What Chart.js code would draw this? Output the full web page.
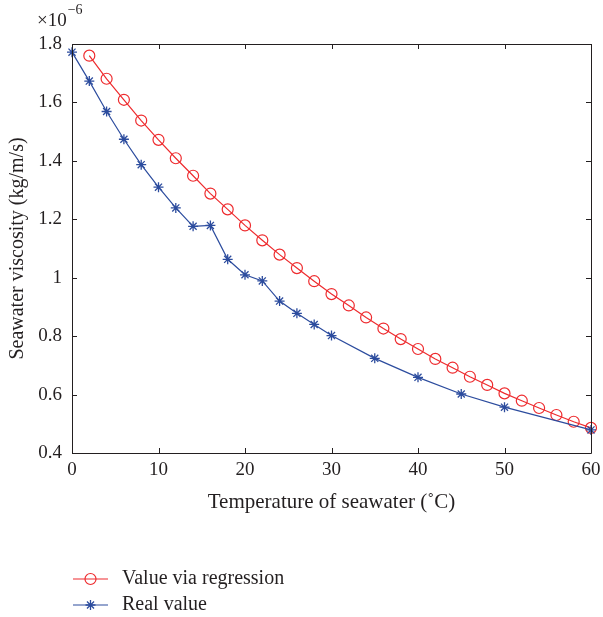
<!DOCTYPE html>
<html>
<head>
<meta charset="utf-8">
<script src="https://cdn.jsdelivr.net/npm/chart.js@4.4.1/dist/chart.umd.min.js"></script>
<style>
  html, body { margin: 0; padding: 0; background: #fff; }
  #wrap { position: relative; width: 603px; height: 617px; }
</style>
</head>
<body>
<div id="wrap"><canvas id="c"></canvas></div>
<script>
// ── DATA (viscosity in units of 1e-6 kg/m/s) ──────────
const regTemps   = [2, 4, 6, 8, 10, 12, 14, 16, 18, 20, 22, 24, 26, 28, 30, 32, 34, 36, 38, 40, 42, 44, 46, 48, 50, 52, 54, 56, 58, 60];
const regValues  = [1.760, 1.681, 1.609, 1.538, 1.472, 1.409, 1.349, 1.288, 1.234, 1.179, 1.128, 1.079, 1.033, 0.988, 0.944, 0.905, 0.864, 0.826, 0.790, 0.756, 0.722, 0.692, 0.661, 0.633, 0.604, 0.579, 0.554, 0.530, 0.507, 0.486];
const realTemps  = [0, 2, 4, 6, 8, 10, 12, 14, 16, 18, 20, 22, 24, 26, 28, 30, 35, 40, 45, 50, 60];
const realValues = [1.772, 1.673, 1.569, 1.474, 1.387, 1.310, 1.239, 1.176, 1.179, 1.063, 1.010, 0.989, 0.920, 0.878, 0.840, 0.802, 0.724, 0.659, 0.602, 0.557, 0.479];

const xTicks      = [0, 10, 20, 30, 40, 50, 60];
const yTicks      = [0.4, 0.6, 0.8, 1.0, 1.2, 1.4, 1.6, 1.8];
const yTickLabels = ['0.4', '0.6', '0.8', '1', '1.2', '1.4', '1.6', '1.8'];

const seriesNames = ['Value via regression', 'Real value'];

// ── STYLE ────────────────────────────────
const FONT = "'Liberation Serif', 'DejaVu Serif', serif";
const INK  = '#231f20';
const RED  = '#ee2b2e';
const BLUE = '#2c4c9e';

const toXY = (xs, ys) => xs.map((x, i) => ({ x, y: ys[i] }));

// ── PLUGIN: inward ticks, box, exponent, legend ──
const matlabAxes = {
  id: 'matlabAxes',
  afterDraw(chart) {
    const { ctx, chartArea: a, scales } = chart;
    const L = 5;
    ctx.save();
    ctx.strokeStyle = INK;
    ctx.lineWidth = 1;
    ctx.beginPath();
    ctx.rect(Math.round(a.left) + 0.5, Math.round(a.top) + 0.5,
             Math.round(a.right - a.left), Math.round(a.bottom - a.top));
    xTicks.forEach(v => {
      const px = Math.round(scales.x.getPixelForValue(v)) + 0.5;
      ctx.moveTo(px, a.bottom); ctx.lineTo(px, a.bottom - L);
      ctx.moveTo(px, a.top);    ctx.lineTo(px, a.top + L);
    });
    yTicks.forEach(v => {
      const py = Math.round(scales.y.getPixelForValue(v)) + 0.5;
      ctx.moveTo(a.left, py);  ctx.lineTo(a.left + L, py);
      ctx.moveTo(a.right, py); ctx.lineTo(a.right - L, py);
    });
    ctx.stroke();

    // exponent
    ctx.fillStyle = INK;
    ctx.textBaseline = 'alphabetic';
    ctx.textAlign = 'left';
    ctx.font = `19px ${FONT}`;
    ctx.fillText('\u00d710', 37, 26);
    const w = ctx.measureText('\u00d710').width;
    ctx.font = `14px ${FONT}`;
    ctx.fillText('\u22126', 37 + w + 1, 14);

    // legend
    const rows = [579, 605];
    chart.data.datasets.forEach((ds, i) => {
      const y = rows[i];
      ctx.strokeStyle = ds.borderColor;
      ctx.lineWidth = ds.borderWidth;
      ctx.beginPath();
      ctx.moveTo(73, y); ctx.lineTo(108, y);
      ctx.stroke();
      ctx.fillStyle = ds.pointBackgroundColor;
      ctx.strokeStyle = ds.pointBorderColor;
      ctx.lineWidth = ds.pointBorderWidth;
      Chart.helpers.drawPoint(ctx, {
        pointStyle: ds.pointStyle, radius: ds.pointRadius, rotation: 0,
        borderWidth: ds.pointBorderWidth
      }, 90.5, y);
      ctx.fillStyle = INK;
      ctx.font = `20px ${FONT}`;
      ctx.textBaseline = 'middle';
      ctx.fillText(ds.label, 122, y);
    });
    ctx.restore();
  }
};

// ── CHART ────────────────────────────────
new Chart(document.getElementById('c'), {
  type: 'line',
  data: {
    datasets: [
      {
        label: seriesNames[0],
        data: toXY(regTemps, regValues),
        borderColor: RED, borderWidth: 1.2,
        pointStyle: 'circle', pointRadius: 5.5, pointBorderWidth: 1.2,
        pointBackgroundColor: 'rgba(0,0,0,0)', pointBorderColor: RED,
        clip: false, order: 1
      },
      {
        label: seriesNames[1],
        data: toXY(realTemps, realValues),
        borderColor: BLUE, borderWidth: 1.2,
        pointStyle: 'star', pointRadius: 5, pointBorderWidth: 1.3,
        pointBackgroundColor: BLUE, pointBorderColor: BLUE,
        clip: false, order: 0
      }
    ]
  },
  options: {
    responsive: true, maintainAspectRatio: false,
    animation: false,
    events: [],
    layout: { padding: { left: 0, top: 44, right: 12, bottom: 102 } },
    plugins: { legend: { display: false }, tooltip: { enabled: false } },
    scales: {
      x: {
        type: 'linear', min: 0, max: 60,
        afterBuildTicks: s => { s.ticks = xTicks.map(v => ({ value: v })); },
        afterFit: s => { s.height = 62; s.paddingLeft = 0; s.paddingRight = 0; },
        ticks: { color: INK, font: { family: FONT, size: 19 }, padding: 6, maxRotation: 0 },
        grid: { display: false, drawTicks: false },
        border: { display: false },
        title: {
          display: true, text: 'Temperature of seawater (\u02daC)',
          color: INK, font: { family: FONT, size: 21 }, padding: { top: 0, bottom: 0 }
        }
      },
      y: {
        type: 'linear', min: 0.4, max: 1.8,
        afterBuildTicks: s => { s.ticks = yTicks.map(v => ({ value: v })); },
        afterFit: s => { s.width = 72; },
        ticks: {
          color: INK, font: { family: FONT, size: 19 }, padding: 10,
          callback: (v, i) => yTickLabels[i]
        },
        grid: { display: false, drawTicks: false },
        border: { display: false },
        title: {
          display: true, text: 'Seawater viscosity (kg/m/s)',
          color: INK, font: { family: FONT, size: 20 }, padding: { top: 6, bottom: 0 }
        }
      }
    }
  },
  plugins: [matlabAxes]
});
</script>
</body>
</html>
